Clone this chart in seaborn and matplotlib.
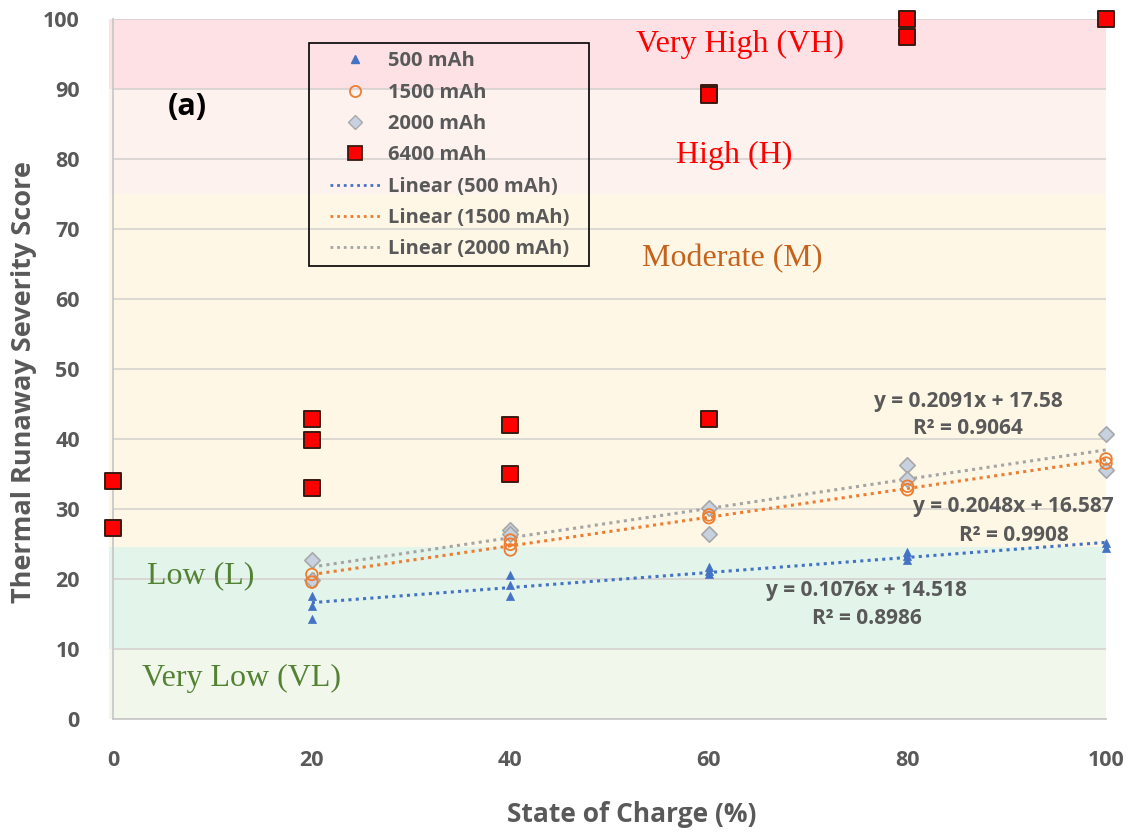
import matplotlib
matplotlib.use("Agg")
import matplotlib.pyplot as plt
from matplotlib.lines import Line2D
from matplotlib.patches import Rectangle
import seaborn as sns
import numpy as np

# ---------------- data ----------------
soc_500 = [20, 20, 20, 40, 40, 40, 60, 60, 60, 80, 80, 80, 100, 100]
score_500 = [17.6, 16.2, 14.4, 20.6, 19.2, 17.6, 21.8, 21.2, 20.8, 23.9, 23.3, 22.7, 25.2, 24.5]

soc_1500 = [20, 20, 40, 40, 40, 60, 60, 80, 80, 100, 100]
score_1500 = [20.7, 19.6, 25.6, 25.0, 24.2, 29.2, 28.8, 33.3, 32.8, 37.2, 36.6]

soc_2000 = [20, 20, 40, 40, 60, 60, 80, 80, 100, 100]
score_2000 = [22.7, 19.9, 27.0, 26.5, 30.2, 26.5, 36.4, 34.3, 40.8, 35.6]

soc_6400 = [0, 0, 20, 20, 20, 40, 40, 60, 60, 60, 80, 80, 100]
score_6400 = [34.1, 27.3, 42.9, 39.9, 33.1, 42.1, 35.0, 42.9, 89.4, 89.2, 100.0, 97.4, 100.0]

fit_names = ["500 mAh", "1500 mAh", "2000 mAh"]
fit_slopes = [0.1076, 0.2048, 0.2091]
fit_intercepts = [14.518, 16.587, 17.58]
fit_r2 = [0.8986, 0.9908, 0.9064]
fit_range = [20, 100]

band_names = ["Very Low (VL)", "Low (L)", "Moderate (M)", "High (H)", "Very High (VH)"]
band_lo = [0, 10, 24.6, 75, 90]
band_hi = [10, 24.6, 75, 90, 100]

x_ticks = [0, 20, 40, 60, 80, 100]
y_ticks = [0, 10, 20, 30, 40, 50, 60, 70, 80, 90, 100]

# ---------------- style ----------------
sns.set_theme(style="white")
plt.rcParams["font.family"] = ["Open Sans", "DejaVu Sans"]

GRAY_TXT = "#595959"
band_colors = ["#f1f7eb", "#e3f4ea", "#fef7e6", "#fdf2ee", "#fde1e4"]
band_txt_colors = ["#548235", "#548235", "#c5631c", "#ff0000", "#ff0000"]
band_txt_pos = [(12.9, 5.9), (8.8, 20.5), (62.3, 65.8), (62.5, 80.5), (63.1, 96.4)]
fit_colors = ["#4472c4", "#ed7d31", "#a5a5a5"]

fig = plt.figure(figsize=(11.31, 8.34), dpi=100)
ax = fig.add_axes([0.1002, 0.1375, 0.8777, 0.8394])

# background bands
for lo, hi, c in zip(band_lo, band_hi, band_colors):
    ax.axhspan(lo, hi, xmin=-0.004, xmax=1.0, color=c, zorder=0.1, lw=0, clip_on=False)

ax.set_xlim(0, 100)
ax.set_ylim(0, 100)
ax.set_xticks(x_ticks)
ax.set_yticks(y_ticks)
ax.yaxis.grid(True, color="#d6d2cf", lw=1.2, zorder=0.5)
ax.xaxis.grid(False)
ax.set_axisbelow(True)

for sp in ["top", "right"]:
    ax.spines[sp].set_visible(False)
for sp in ["left", "bottom"]:
    ax.spines[sp].set_color("#c9c9c9")
    ax.spines[sp].set_linewidth(1.3)

ax.tick_params(axis="x", direction="in", length=7, width=1, color="#bfbfbf", pad=22,
               labelsize=15.5, labelcolor=GRAY_TXT)
ax.tick_params(axis="y", length=0, pad=24, labelsize=15.5, labelcolor=GRAY_TXT)
for lab in ax.get_xticklabels() + ax.get_yticklabels():
    lab.set_fontweight("bold")

# band labels
for name, (bx, by), tc in zip(band_names, band_txt_pos, band_txt_colors):
    ax.text(bx, by, name, family="Liberation Serif", fontsize=23, color=tc,
            ha="center", va="center", zorder=1)

# trend lines
xs = np.array(fit_range, dtype=float)
for name, m, b, c in zip(fit_names, fit_slopes, fit_intercepts, fit_colors):
    ax.plot(xs, m * xs + b, ls=(0, (1, 1.4)), lw=2.2, color=c, zorder=2)

# scatter series
sns.scatterplot(x=soc_6400, y=score_6400, marker="s", s=118, color="#ff0000",
                edgecolor="#3a1a10", linewidth=1.4, ax=ax, zorder=3, clip_on=False, legend=False)
sns.scatterplot(x=soc_2000, y=score_2000, marker="D", s=62, color="#c7d1df",
                edgecolor="#a8a8a8", linewidth=1.2, ax=ax, zorder=4, clip_on=False, legend=False)
sns.scatterplot(x=soc_1500, y=score_1500, marker="o", s=70, facecolor="none",
                edgecolor="#ed7d31", linewidth=1.3, ax=ax, zorder=5, clip_on=False, legend=False)
sns.scatterplot(x=soc_500, y=score_500, marker="^", s=34, color="#4472c4",
                edgecolor="#4472c4", linewidth=0.5, ax=ax, zorder=6, clip_on=False, legend=False)

# equations
eq_pos = [(75.9, 18.4, 14.4), (90.7, 30.4, 26.2), (86.1, 45.4, 41.5)]
for m, b, r2, (ex, ey1, ey2) in zip(fit_slopes, fit_intercepts, fit_r2, eq_pos):
    ax.text(ex, ey1, f"y = {m}x + {b}", fontsize=15, fontweight="bold", color=GRAY_TXT,
            ha="center", va="center", zorder=7)
    ax.text(ex, ey2, f"R\u00b2 = {r2:.4f}", fontsize=15, fontweight="bold", color=GRAY_TXT,
            ha="center", va="center", zorder=7)

# panel label
ax.text(7.5, 87.4, "(a)", fontsize=22, fontweight="bold", color="black", ha="center", va="center")

# axis labels
ax.set_xlabel("State of Charge (%)", fontsize=19, fontweight="bold", color=GRAY_TXT)
ax.set_ylabel("Thermal Runaway Severity Score", fontsize=19.5, fontweight="bold", color=GRAY_TXT)
ax.xaxis.set_label_coords(0.5225, -0.116)
ax.yaxis.set_label_coords(-0.077, 0.482)

# legend (frame drawn as a separate rectangle)
handles = [
    Line2D([], [], ls="none", marker="^", ms=6, color="#4472c4", mec="#4472c4"),
    Line2D([], [], ls="none", marker="o", ms=8, mfc="none", mec="#ed7d31", mew=1.3),
    Line2D([], [], ls="none", marker="D", ms=7, mfc="#c7d1df", mec="#a8a8a8", mew=1),
    Line2D([], [], ls="none", marker="s", ms=10, mfc="#ff0000", mec="#3a1a10", mew=1.3),
]
for c in fit_colors:
    handles.append(Line2D([], [], ls=(0, (1, 1.4)), lw=2, color=c))
labels = ["500 mAh", "1500 mAh", "2000 mAh", "6400 mAh"] + [f"Linear ({n})" for n in fit_names]
leg = ax.legend(handles, labels, loc="upper left", bbox_to_anchor=(0.2183, 0.954),
                frameon=False, handlelength=2.5, handletextpad=0.36, labelspacing=0.56,
                borderpad=0, borderaxespad=0, prop={"weight": "bold", "size": 14.5})
for t in leg.get_texts():
    t.set_color(GRAY_TXT)
ax.add_patch(Rectangle((0.1976, 0.6477), 0.4787 - 0.1976, 0.9663 - 0.6477,
                       transform=ax.transAxes, fill=False, edgecolor="black", lw=1.2, zorder=8))

fig.savefig("out.png", dpi=100)
